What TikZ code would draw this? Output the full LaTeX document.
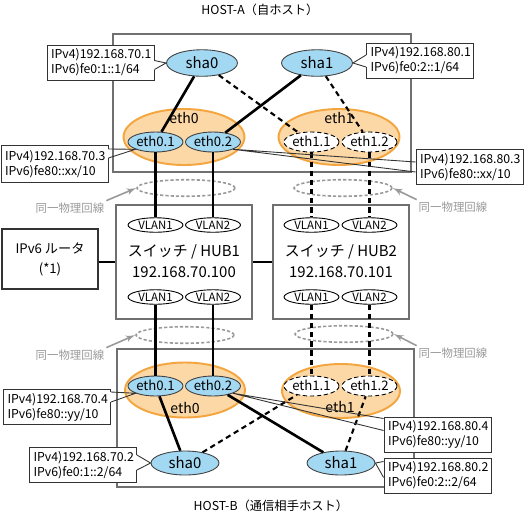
\documentclass[tikz,border=0pt]{standalone}
\usepackage{fontspec}
\setmainfont{Noto Sans CJK JP}
\usepackage{tikz}
\usetikzlibrary{arrows, calc, shapes.geometric}

\definecolor{vifblue}{HTML}{A3D8F2}
\definecolor{nicfill}{HTML}{FBD8A5}
\definecolor{nicedge}{HTML}{F3A53F}
\definecolor{boxgray}{HTML}{707070}
\definecolor{wiregray}{HTML}{999999}

\begin{document}
\begin{tikzpicture}[x=0.02cm, y=-0.02cm]
        \tikzset{host/.style = {draw=boxgray, line width=0.85pt, minimum width=5.96cm, minimum height=2.76cm}}
        \tikzset{hub/.style = {draw=boxgray, line width=0.7pt, minimum width=2.72cm, minimum height=2.28cm}}
        \tikzset{sha/.style = {shape=ellipse, draw=black!75, fill=vifblue, line width=0.5pt, inner sep=0pt, minimum width=1.42cm, minimum height=0.53cm, text height=6pt, text depth=0pt, font=\fontsize{8.5pt}{10pt}\selectfont}}
        \tikzset{nic/.style = {shape=ellipse, draw=nicedge, fill=nicfill, line width=1.1pt, minimum width=2.42cm, minimum height=1.12cm}}
        \tikzset{vif/.style = {shape=ellipse, draw=black!75, fill=vifblue, line width=0.5pt, inner sep=0pt, minimum width=1.1cm, minimum height=0.4cm, text height=5.5pt, text depth=0pt, font=\fontsize{7.5pt}{9pt}\selectfont}}
        \tikzset{vifd/.style = {vif, fill=white, draw=black, dash pattern=on 2.5pt off 1.5pt}}
        \tikzset{vlan/.style = {shape=ellipse, draw=black, fill=white, line width=0.5pt, inner sep=0pt, minimum width=1.1cm, minimum height=0.29cm, text height=4.6pt, text depth=0pt, font=\fontsize{6.5pt}{7pt}\selectfont}}
        \tikzset{note/.style = {draw=black!80, fill=white, line width=0.5pt, minimum width=2.14cm, minimum height=0.7cm, text width=1.98cm, align=left, inner sep=2pt, font=\fontsize{7pt}{8.6pt}\selectfont}}
        \tikzset{pointer/.style = {draw=black!80, line width=0.5pt}}
        \tikzset{gap/.style = {draw=white, line width=0.9pt}}
        \tikzset{same/.style = {shape=ellipse, draw=wiregray, line width=0.9pt, dash pattern=on 1.8pt off 1.2pt, minimum width=1.96cm, minimum height=0.25cm}}
        \tikzset{samelabel/.style = {text=wiregray, inner sep=1pt, font=\fontsize{6.5pt}{8pt}\selectfont}}
        \tikzset{hint/.style = {->, >=latex', draw=wiregray, line width=0.9pt}}
        \tikzset{wire/.style = {line width=1.5pt}}
        \tikzset{vwire/.style = {line width=1.2pt, dash pattern=on 3pt off 2.2pt}}
        \tikzset{title/.style = {font=\fontsize{7pt}{8pt}\selectfont}}
        \tikzset{label/.style = {font=\fontsize{8pt}{9pt}\selectfont}}
        \useasboundingbox (0,0) rectangle (525,515);

        % hosts, switches, router
        \node[host] (hostA) at (262,103) {};
        \node[host, minimum width=5.94cm] (hostB) at (265.5,418) {};
        \node[title] (titleA) at (260,10) {HOST-A（自ホスト）};
        \node[title] (titleB) at (271,506) {HOST-B（通信相手ホスト）};
        \node[hub] (hub1) at (184,262) {};
        \node[hub] (hub2) at (341,262) {};
        \node[draw=black!80, line width=0.6pt, minimum width=1.92cm, minimum height=1.2cm, align=center,
              font=\fontsize{7.5pt}{11.3pt}\selectfont] (router) at (50,259) {IPv6 ルータ\\(*1)};
        \draw[line width=0.6pt] (router.east |- hub1.west) -- (hub1.west);
        \draw[line width=0.6pt] (hub1.east) -- (hub2.west);
        \node[font=\fontsize{8.5pt}{10pt}\selectfont] (h1name) at (184,252) {スイッチ / HUB1};
        \node[font=\fontsize{8.5pt}{10pt}\selectfont] (h1addr) at (184,272) {192.168.70.100};
        \node[font=\fontsize{8.5pt}{10pt}\selectfont] (h2name) at (341,252) {スイッチ / HUB2};
        \node[font=\fontsize{8.5pt}{10pt}\selectfont] (h2addr) at (341,272) {192.168.70.101};
        \node[vlan] (v1a) at (155.5,225) {VLAN1};
        \node[vlan] (v1b) at (213,225) {VLAN2};
        \node[vlan] (v1c) at (155.5,297) {VLAN1};
        \node[vlan] (v1d) at (213,297) {VLAN2};
        \node[vlan] (v2a) at (311.5,225) {VLAN1};
        \node[vlan] (v2b) at (369.5,225) {VLAN2};
        \node[vlan] (v2c) at (311.5,297) {VLAN1};
        \node[vlan] (v2d) at (369.5,297) {VLAN2};

        % same physical line
        \node[same] (sameA1) at (186,188) {};
        \node[same] (sameA2) at (343,188) {};
        \node[same] (sameB1) at (185,335) {};
        \node[same] (sameB2) at (344,334) {};
        \node[samelabel] (lA1) at (70,208) {同一物理回線};
        \node[samelabel] (lA2) at (453,207) {同一物理回線};
        \node[samelabel] (lB1) at (70,355) {同一物理回線};
        \node[samelabel] (lB2) at (453,353) {同一物理回線};
        \draw[hint] (lA1.north east) -- (sameA1.west);
        \draw[hint] (lA2.north west) -- (sameA2.east);
        \draw[hint] (lB1.north east) -- (sameB1.west);
        \draw[hint] (lB2.north west) -- (sameB2.east);

        % HOST-A interfaces
        \node[nic] (eA0) at (184,137) {};
        \node[nic] (eA1) at (339,137) {};
        \node[label] (eA0t) at (184,118) {eth0};
        \node[label] (eA1t) at (339,118) {eth1};
        \node[vif] (eA01) at (155.5,142) {eth0.1};
        \node[vif] (eA02) at (213,142) {eth0.2};
        \node[vifd] (eA11) at (311.5,142) {eth1.1};
        \node[vifd] (eA12) at (369.5,142) {eth1.2};
        \node[sha] (shaA0) at (202,63) {sha0};
        \node[sha] (shaA1) at (317,63) {sha1};
        \draw[wire] (shaA0) -- (eA01);
        \draw[wire] (shaA1) -- (eA02);
        \draw[vwire] (shaA0) -- (eA11);
        \draw[vwire] (shaA1) -- (eA12);
        \draw[wire] (eA01) -- (v1a);
        \draw[wire] (eA02) -- (v1b);
        \draw[vwire] (eA11) -- (v2a);
        \draw[vwire] (eA12) -- (v2b);

        % HOST-B interfaces
        \node[nic, minimum width=2.4cm, minimum height=1.1cm] (eB0) at (185,390) {};
        \node[nic, minimum width=2.36cm, minimum height=1.08cm] (eB1) at (341,391) {};
        \node[label] (eB0t) at (185,408) {eth0};
        \node[label] (eB1t) at (340,407) {eth1};
        \node[vif] (eB01) at (155.5,386) {eth0.1};
        \node[vif] (eB02) at (213,386) {eth0.2};
        \node[vifd] (eB11) at (311.5,386) {eth1.1};
        \node[vifd] (eB12) at (369.5,386) {eth1.2};
        \node[sha, minimum width=1.36cm, minimum height=0.48cm] (shaB0) at (185,463) {sha0};
        \node[sha, minimum width=1.36cm, minimum height=0.48cm] (shaB1) at (341,463) {sha1};
        \draw[wire] (eB01) -- (shaB0);
        \draw[wire] (eB02) -- (shaB1);
        \draw[vwire] (shaB0) -- (eB11);
        \draw[vwire] (shaB1) -- (eB12);
        \draw[wire] (v1c) -- (eB01);
        \draw[wire] (v1d) -- (eB02);
        \draw[vwire] (v2c) -- (eB11);
        \draw[vwire] (v2d) -- (eB12);

        % address notes
        \node[note] (cA1) at (100.5,62.5) {IPv4)192.168.70.1\\IPv6)fe0:1::1/64};
        \node[note] (cA2) at (420,60.5) {IPv4)192.168.80.1\\IPv6)fe0:2::1/64};
        \node[note, minimum height=0.74cm] (cA3) at (54.5,164) {IPv4)192.168.70.3\\IPv6)fe80::xx/10};
        \node[note] (cA4) at (469.5,167) {IPv4)192.168.80.3\\IPv6)fe80::xx/10};
        \node[note] (cB1) at (57,407) {IPv4)192.168.70.4\\IPv6)fe80::yy/10};
        \node[note] (cB2) at (437.5,434.5) {IPv4)192.168.80.4\\IPv6)fe80::yy/10};
        \node[note] (cB3) at (83,465) {IPv4)192.168.70.2\\IPv6)fe0:1::2/64};
        \node[note] (cB4) at (437.5,475.5) {IPv4)192.168.80.2\\IPv6)fe0:2::2/64};
        \draw[gap] ($(cA1.east)+(0,-2)$) -- ($(cA1.east)+(0,7)$);
        \draw[pointer] ($(cA1.east)+(0,-2)$) -- (shaA0.west) -- ($(cA1.east)+(0,7)$);
        \draw[gap] ($(cA2.west)+(0,-5.5)$) -- ($(cA2.west)+(0,6.5)$);
        \draw[pointer] ($(cA2.west)+(0,-5.5)$) -- (shaA1.east) -- ($(cA2.west)+(0,6.5)$);
        \draw[gap] ($(cA3.east)+(0,-15)$) -- ($(cA3.east)+(0,-6)$);
        \draw[pointer] ($(cA3.east)+(0,-15)$) -- (eA01.200) -- ($(cA3.east)+(0,-6)$);
        \draw[gap] ($(cA4.west)+(0,-5)$) -- ($(cA4.west)+(0,5)$);
        \draw[pointer] ($(cA4.west)+(0,-5)$) -- (eA02.-20) -- ($(cA4.west)+(0,5)$);
        \draw[gap] ($(cB1.east)+(0,-15)$) -- ($(cB1.east)+(0,-5)$);
        \draw[pointer] ($(cB1.east)+(0,-15)$) -- (eB01.200) -- ($(cB1.east)+(0,-5)$);
        \draw[gap] ($(cB2.west)+(0,-16)$) -- ($(cB2.west)+(0,-4)$);
        \draw[pointer] ($(cB2.west)+(0,-16)$) -- (eB02.-20) -- ($(cB2.west)+(0,-4)$);
        \draw[gap] ($(cB3.east)+(0,-10)$) -- ($(cB3.east)+(0,5)$);
        \draw[pointer] ($(cB3.east)+(0,-10)$) -- (shaB0.west) -- ($(cB3.east)+(0,5)$);
        \draw[gap] ($(cB4.west)+(0,-14)$) -- ($(cB4.west)+(0,2)$);
        \draw[pointer] ($(cB4.west)+(0,-14)$) -- (shaB1.east) -- ($(cB4.west)+(0,2)$);
\end{tikzpicture}
\end{document}
